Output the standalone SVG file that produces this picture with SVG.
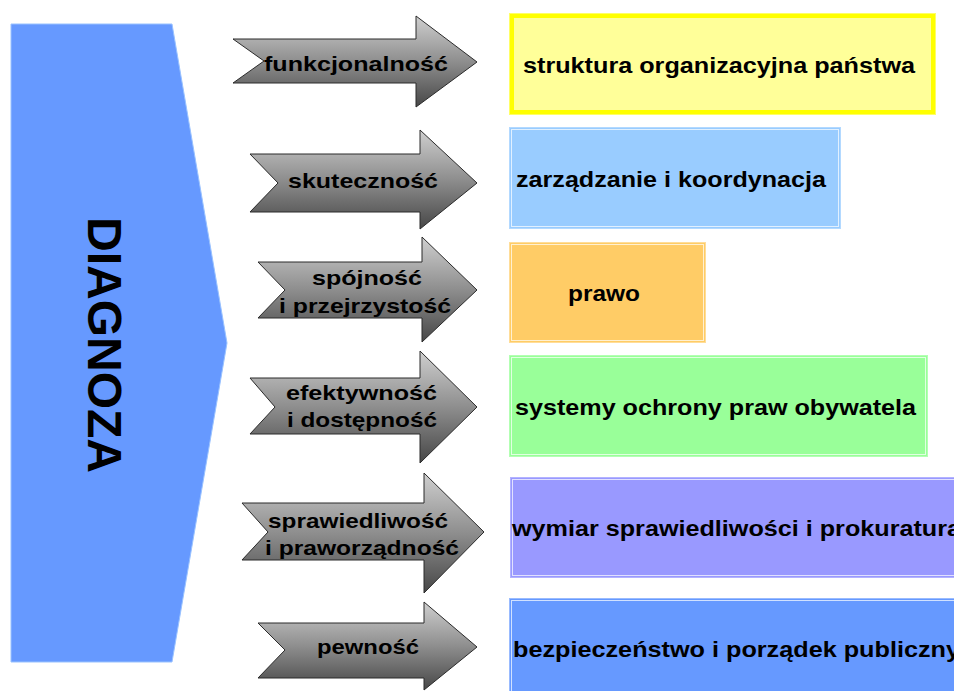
<svg xmlns="http://www.w3.org/2000/svg" width="954" height="691" viewBox="0 0 954 691">
<defs>
<linearGradient id="gray" x1="0" y1="0" x2="0" y2="1">
<stop offset="0" stop-color="#cfcfcf"/>
<stop offset="0.5" stop-color="#8e8e8e"/>
<stop offset="1" stop-color="#474747"/>
</linearGradient>
<style>
.arrow{fill:url(#gray);stroke:#2b2b2b;stroke-width:1}
.at{font-family:"Liberation Sans",Arial,sans-serif;font-weight:bold;font-size:21px;fill:#000}
.bt{font-family:"Liberation Sans",Arial,sans-serif;font-weight:bold;font-size:22px;fill:#000}
.inner{fill:none;stroke:#ffffff;stroke-opacity:0.7;stroke-width:1}
</style>
</defs>
<rect width="954" height="691" fill="#ffffff"/>

<g id="diagnoza">
<polygon points="11,24 172,24 227,343 172,662 11,662" fill="#6699ff" stroke="#99c2ff" stroke-width="1"/>
<text transform="translate(88,345) rotate(90)" text-anchor="middle" font-family="Liberation Sans, Arial, sans-serif" font-weight="bold" font-size="48" fill="#000">DIAGNOZA</text>
</g>

<g id="connectors">
<g id="arrow1">
<polygon class="arrow" points="233,39 416,39 416,16 477,62 416,107 416,83 233,83 264,61"/>
<text class="at" x="264" y="71" textLength="184" lengthAdjust="spacingAndGlyphs">funkcjonalność</text>
</g>
<g id="arrow2">
<polygon class="arrow" points="250,154 420,154 420,130 477,183 420,229 420,212 250,212 278,183"/>
<text class="at" x="288" y="188" textLength="150" lengthAdjust="spacingAndGlyphs">skuteczność</text>
</g>
<g id="arrow3">
<polygon class="arrow" points="258,262 422,262 422,237 477,290 422,342 422,318 258,318 285,290"/>
<text class="at" x="312" y="285" textLength="110" lengthAdjust="spacingAndGlyphs">spójność</text>
<text class="at" x="279" y="313" textLength="172" lengthAdjust="spacingAndGlyphs">i przejrzystość</text>
</g>
<g id="arrow4">
<polygon class="arrow" points="250,378 420,378 420,351 477,407 420,463 420,434 250,434 275,407"/>
<text class="at" x="286" y="400" textLength="151" lengthAdjust="spacingAndGlyphs">efektywność</text>
<text class="at" x="287" y="427" textLength="150" lengthAdjust="spacingAndGlyphs">i dostępność</text>
</g>
<g id="arrow5">
<polygon class="arrow" points="242,503 424,503 424,473 484,532 424,593 424,560 242,560 268,532"/>
<text class="at" x="268" y="528" textLength="180" lengthAdjust="spacingAndGlyphs">sprawiedliwość</text>
<text class="at" x="265" y="555" textLength="194" lengthAdjust="spacingAndGlyphs">i praworządność</text>
</g>
<g id="arrow6">
<polygon class="arrow" points="258,623 424,623 424,602 477,647 424,690 424,678 258,678 285,650"/>
<text class="at" x="317" y="654" textLength="102" lengthAdjust="spacingAndGlyphs">pewność</text>
</g>
</g>

<g id="box1">
<rect x="509.5" y="13.5" width="426" height="101" fill="#ffff99" stroke="#ffff66" stroke-width="1"/>
<rect x="512" y="16" width="421" height="96" fill="none" stroke="#ffff00" stroke-width="4"/>
<text class="bt" x="523" y="73" textLength="392" lengthAdjust="spacingAndGlyphs">struktura organizacyjna państwa</text>
</g>
<g id="box2">
<rect x="509.5" y="127.5" width="331" height="101" fill="#99ccff" stroke="#b3d9ff" stroke-width="1"/>
<rect x="511.5" y="129.5" width="327" height="97" class="inner"/>
<text class="bt" x="516" y="187" textLength="310" lengthAdjust="spacingAndGlyphs">zarządzanie i koordynacja</text>
</g>
<g id="box3">
<rect x="509.5" y="242.5" width="196" height="100" fill="#ffcc66" stroke="#ffdd99" stroke-width="1"/>
<rect x="511.5" y="244.5" width="192" height="96" class="inner"/>
<text class="bt" x="568" y="301" textLength="72" lengthAdjust="spacingAndGlyphs">prawo</text>
</g>
<g id="box4">
<rect x="509.5" y="355.5" width="418" height="101" fill="#99ff99" stroke="#b3ffb3" stroke-width="1"/>
<rect x="511.5" y="357.5" width="414" height="97" class="inner"/>
<text class="bt" x="515" y="415" textLength="401" lengthAdjust="spacingAndGlyphs">systemy ochrony praw obywatela</text>
</g>
<g id="box5">
<rect x="510.5" y="477.5" width="460" height="100" fill="#9999ff" stroke="#b3b3ff" stroke-width="1"/>
<rect x="512.5" y="479.5" width="456" height="96" class="inner"/>
<text class="bt" x="512" y="536" textLength="449" lengthAdjust="spacingAndGlyphs">wymiar sprawiedliwości i prokuratura</text>
</g>
<g id="box6">
<rect x="509.5" y="598.5" width="460" height="110" fill="#6699ff" stroke="#99bbff" stroke-width="1"/>
<rect x="511.5" y="600.5" width="456" height="106" class="inner"/>
<text class="bt" x="513" y="657" textLength="447" lengthAdjust="spacingAndGlyphs">bezpieczeństwo i porządek publiczny</text>
</g>
</svg>
